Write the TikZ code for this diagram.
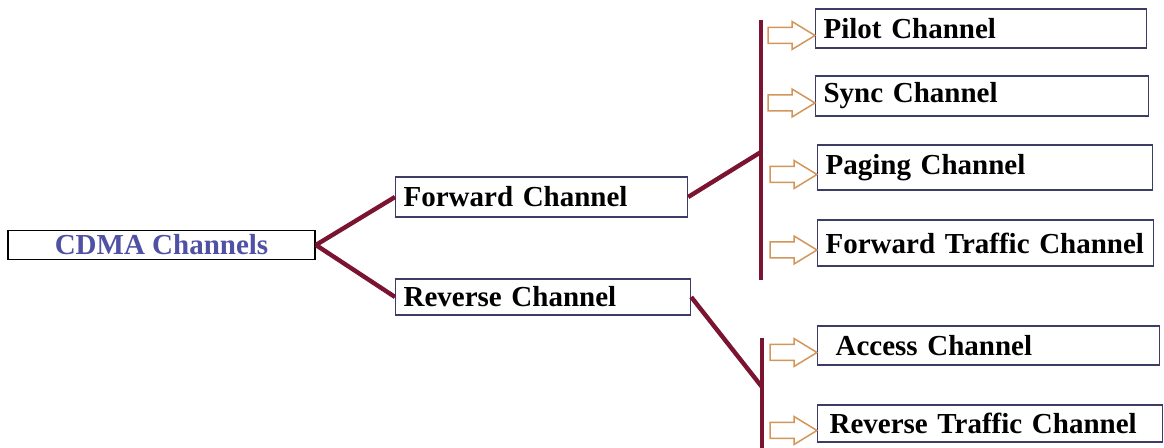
\documentclass[tikz,border=0pt]{standalone}
\usepackage{fontspec}
\setmainfont{Liberation Serif}
\usetikzlibrary{positioning,calc}
\definecolor{branchred}{RGB}{122,20,48}
\definecolor{boxline}{RGB}{60,60,100}
\definecolor{cdmablue}{RGB}{80,80,165}
\definecolor{feedline}{RGB}{210,150,90}

\begin{document}
\begin{tikzpicture}[
    x=0.5pt, y=-0.5pt,
    every node/.style={font=\fontsize{14.5}{17}\selectfont\bfseries},
    rootbox/.style={rectangle, draw=black, line width=0.9pt, text=cdmablue, minimum width=153.5pt, minimum height=14.5pt, inner sep=0pt},
    chbox/.style={rectangle, draw=boxline, line width=0.6pt, text width=#1, align=left, inner xsep=4pt, inner ysep=0pt, anchor=west},
    branch/.style={draw=branchred, line width=2.2pt},
    bar/.style={draw=branchred, line width=2.3pt},
    feed/.style={draw=feedline, fill=white, line width=0.75pt, line join=miter}
]
\useasboundingbox (0,0) rectangle (1164,448);

% Root
\node[rootbox] (cdma) at (161.5,245) {CDMA Channels};

% Directions
\node[chbox=138pt, minimum height=20pt] (fwd) at (395,197) {Forward Channel};
\node[chbox=139.5pt, minimum height=18pt] (rev) at (395,297) {Reverse Channel};

% Forward channels
\node[chbox=157.5pt, minimum height=19.5pt] (pilot) at (815,28.5) {Pilot Channel};
\node[chbox=158.5pt, minimum height=20pt] (sync) at (815,96) {Sync Channel};
\node[chbox=159.5pt, minimum height=22.5pt] (paging) at (817,167.5) {Paging Channel};
\node[chbox=160pt, minimum height=23pt] (ftraffic) at (817,243) {Forward Traffic Channel};

% Reverse channels
\node[chbox=163pt, minimum height=19.5pt] (access) at (817,345.5) {\hspace*{5pt}Access Channel};
\node[chbox=164.5pt, minimum height=18.5pt] (rtraffic) at (817,423.5) {\hspace*{2pt}Reverse Traffic Channel};

% Bars
\coordinate (ftop) at (761,20);
\coordinate (fjoint) at (761,152);
\coordinate (fbottom) at (761,280);
\coordinate (rtop) at (762,338);
\coordinate (rjoint) at (762,387);
\coordinate (rbottom) at (762,452);
\draw[bar] (ftop) -- (fbottom);
\draw[bar] (rtop) -- (rbottom);

% Branches
\draw[branch] (cdma.east) -- (fwd.west);
\draw[branch] (cdma.east) -- (rev.west);
\draw[branch] (fwd.east) -- (fjoint);
\draw[branch] (rev.east) -- (rjoint);

% Hollow arrows
\foreach \ch in {pilot,sync,paging,ftraffic,access,rtraffic}
  \draw[feed] ($(\ch.west)+(0,7)$) -- ++(-23,-14) -- ++(0,6) -- ++(-24,0) -- ++(0,16) -- ++(24,0) -- ++(0,6) -- cycle;

\end{tikzpicture}
\end{document}
